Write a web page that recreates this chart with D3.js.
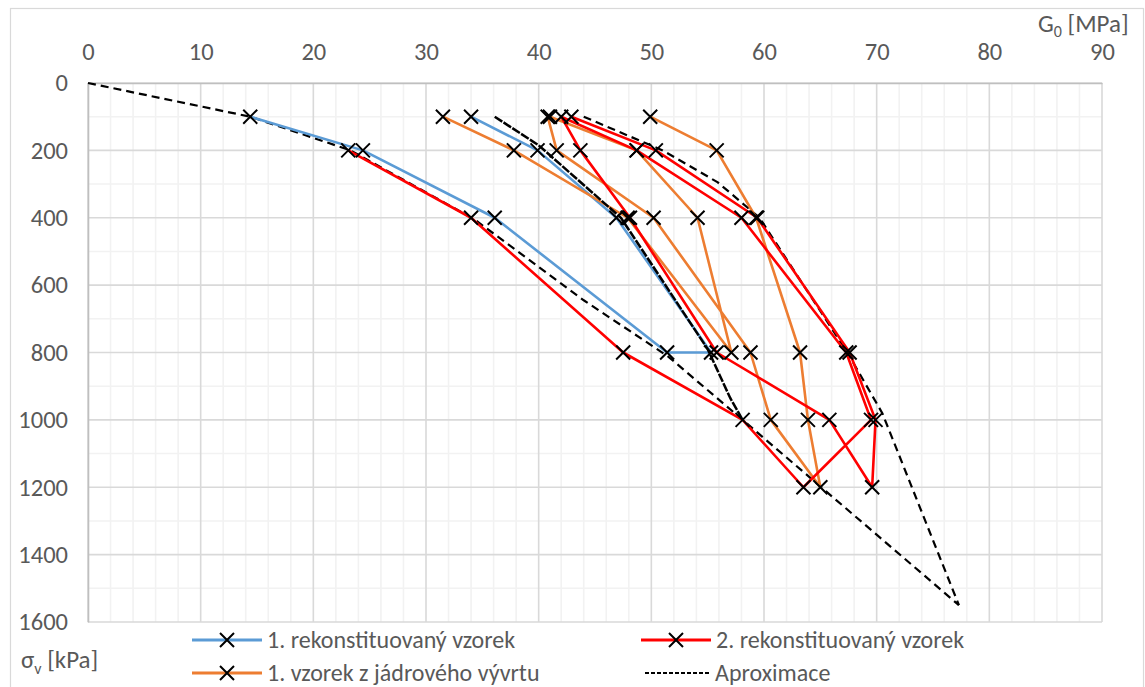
<!DOCTYPE html>
<html>
<head>
<meta charset="utf-8">
<script src="https://cdn.jsdelivr.net/npm/d3@7/dist/d3.min.js"></script>
<style>
  html, body { margin: 0; padding: 0; background: #fff; }
  svg text { font-family: Carlito, "Liberation Sans Narrow", "Open Sans", sans-serif; fill: #595959; }
</style>
</head>
<body>
<svg id="chart" width="1145" height="687"></svg>
<script>
// ---- Data (G0 in MPa, sigma_v in kPa) ----
const xTicks = [0, 10, 20, 30, 40, 50, 60, 70, 80, 90];
const yTicks = [0, 200, 400, 600, 800, 1000, 1200, 1400, 1600];

const seriesNames = ["1. rekonstituovaný vzorek", "2. rekonstituovaný vzorek", "1. vzorek z jádrového vývrtu", "Aproximace"];

// 1. rekonstituovaný vzorek
const s1G     = [14.4, 24.4, 36.1, 51.4, 55.3, 46.9, 39.9, 34.0];
const s1Sigma = [100, 200, 400, 800, 800, 400, 200, 100];

// 2. rekonstituovaný vzorek
const s2G     = [23.1, 34.0, 47.5, 58.1, 63.5, 69.5, 67.3, 58.0, 48.7, 42.0, 43.7, 48.1, 55.8, 65.8, 69.6, 69.9, 67.6, 59.4, 50.4, 42.9];
const s2Sigma = [200, 400, 800, 1000, 1200, 1000, 800, 400, 200, 100, 200, 400, 800, 1000, 1200, 1000, 800, 400, 200, 100];

// 1. vzorek z jádrového vývrtu
const s3G     = [31.5, 37.8, 47.9, 57.1, 54.1, 48.7, 41.0, 40.8, 41.6, 50.2, 58.8, 60.6, 65.0, 63.9, 63.2, 59.3, 55.8, 49.9];
const s3Sigma = [100, 200, 400, 800, 400, 200, 100, 100, 200, 400, 800, 1000, 1200, 1000, 800, 400, 200, 100];

// Aproximace (three curves)
const apA_G     = [0, 14.4, 23.3, 34.3, 44.0, 51.5, 58.1, 77.3];
const apA_Sigma = [0, 100, 200, 405, 645, 812, 1000, 1550];
const apB_G     = [44.0, 51.0, 55.9, 59.6, 67.4, 70.5, 77.3];
const apB_Sigma = [100, 200, 295, 400, 800, 980, 1550];
const apC_G     = [36.1, 40.0, 47.3, 55.0, 57.0, 58.1];
const apC_Sigma = [100, 185, 400, 790, 935, 1000];

const colors = ["#5B9BD5", "#FF0000", "#ED7D31", "#000000"];

// ---- Layout ----
const svg = d3.select("#chart");
const x = d3.scaleLinear().domain([0, 90]).range([88, 1102]);
const y = d3.scaleLinear().domain([0, 1600]).range([83, 622]);

svg.append("rect").attr("x", 0).attr("y", 0).attr("width", 1145).attr("height", 687).attr("fill", "#fff");
svg.append("rect").attr("x", 10.5).attr("y", 8.5).attr("width", 1133).attr("height", 700)
  .attr("fill", "none").attr("stroke", "#d9d9d9").attr("stroke-width", 1.2);

// grid
const minorX = d3.range(0, 90.001, 2).filter(v => v % 10 !== 0);
const minorY = d3.range(0, 1600.001, 100).filter(v => v % 200 !== 0);
const grid = svg.append("g");
grid.selectAll("line.mx").data(minorX).enter().append("line")
  .attr("x1", d => x(d)).attr("x2", d => x(d)).attr("y1", y(0)).attr("y2", y(1600))
  .attr("stroke", "#f2f2f2").attr("stroke-width", 1.6);
grid.selectAll("line.my").data(minorY).enter().append("line")
  .attr("y1", d => y(d)).attr("y2", d => y(d)).attr("x1", x(0)).attr("x2", x(90))
  .attr("stroke", "#f2f2f2").attr("stroke-width", 1.6);
grid.selectAll("line.Mx").data(xTicks).enter().append("line")
  .attr("x1", d => x(d)).attr("x2", d => x(d)).attr("y1", y(0)).attr("y2", y(1600))
  .attr("stroke", "#d9d9d9").attr("stroke-width", 1.6);
grid.selectAll("line.My").data(yTicks).enter().append("line")
  .attr("y1", d => y(d)).attr("y2", d => y(d)).attr("x1", x(0)).attr("x2", x(90))
  .attr("stroke", "#d9d9d9").attr("stroke-width", 1.6);

// axes
const xAxis = svg.append("g").attr("transform", `translate(0,${y(0)})`)
  .call(d3.axisTop(x).tickValues(xTicks).tickFormat(d3.format("d")).tickSize(0).tickPadding(23));
const yAxis = svg.append("g").attr("transform", `translate(${x(0)},0)`)
  .call(d3.axisLeft(y).tickValues(yTicks).tickFormat(d3.format("d")).tickSize(0).tickPadding(20));
[xAxis, yAxis].forEach(a => {
  a.select(".domain").attr("stroke", "#bfbfbf").attr("stroke-width", 1.6);
  a.selectAll("text").style("font-size", "24.5px").attr("fill", "#595959");
});

// axis titles
const gt = svg.append("text").attr("x", 1038).attr("y", 32).style("font-size", "25px");
gt.append("tspan").text("G");
gt.append("tspan").text("0").attr("dy", 5).style("font-size", "16px");
gt.append("tspan").text(" [MPa]").attr("dy", -5);

const st = svg.append("text").attr("x", 21).attr("y", 668).style("font-size", "25px");
st.append("tspan").text("σ");
st.append("tspan").text("v").attr("dy", 6).style("font-size", "16px");
st.append("tspan").text(" [kPa]").attr("dy", -6);

// lines
const line = d3.line().x(d => x(d[0])).y(d => y(d[1]));
const zip = (g, s) => g.map((v, i) => [v, s[i]]);

const plot = svg.append("g");
const data1 = zip(s1G, s1Sigma), data2 = zip(s2G, s2Sigma), data3 = zip(s3G, s3Sigma);

plot.append("path").datum(zip(apA_G, apA_Sigma)).attr("d", line).attr("fill", "none")
  .attr("stroke", "#000").attr("stroke-width", 2.2).attr("stroke-dasharray", "8,5");
plot.append("path").datum(zip(apB_G, apB_Sigma)).attr("d", line).attr("fill", "none")
  .attr("stroke", "#000").attr("stroke-width", 2.2).attr("stroke-dasharray", "8,5");

[[data1, colors[0]], [data3, colors[2]], [data2, colors[1]]].forEach(([d, c]) => {
  plot.append("path").datum(d).attr("d", line).attr("fill", "none")
    .attr("stroke", c).attr("stroke-width", 2.6).attr("stroke-linejoin", "round");
});

plot.append("path").datum(zip(apC_G, apC_Sigma)).attr("d", line).attr("fill", "none")
  .attr("stroke", "#000").attr("stroke-width", 2.5).attr("stroke-dasharray", "9,1.5");

// markers
function cross(sel, cx, cy, r) {
  sel.append("path").attr("d", `M${cx - r},${cy - r}L${cx + r},${cy + r}M${cx - r},${cy + r}L${cx + r},${cy - r}`)
    .attr("stroke", "#000").attr("stroke-width", 2).attr("fill", "none");
}
const mk = svg.append("g");
[data1, data3, data2].forEach(d => d.forEach(p => cross(mk, x(p[0]), y(p[1]), 7)));

// legend
const leg = svg.append("g");
const legItems = [
  { name: seriesNames[0], color: colors[0], lx: 192, ly: 640, marker: true, dash: null },
  { name: seriesNames[1], color: colors[1], lx: 641, ly: 640, marker: true, dash: null },
  { name: seriesNames[2], color: colors[2], lx: 192, ly: 673, marker: true, dash: null },
  { name: seriesNames[3], color: colors[3], lx: 645, ly: 673, marker: false, dash: "4,2" },
];
legItems.forEach(it => {
  const w = it.marker ? 70 : 65;
  leg.append("line").attr("x1", it.lx).attr("x2", it.lx + w).attr("y1", it.ly).attr("y2", it.ly)
    .attr("stroke", it.color).attr("stroke-width", it.marker ? 3 : 2)
    .attr("stroke-dasharray", it.dash);
  if (it.marker) cross(leg, it.lx + 35, it.ly, 7);
  leg.append("text").attr("x", it.lx + w + 5).attr("y", it.ly + 8).style("font-size", "24px").text(it.name);
});
</script>
</body>
</html>
